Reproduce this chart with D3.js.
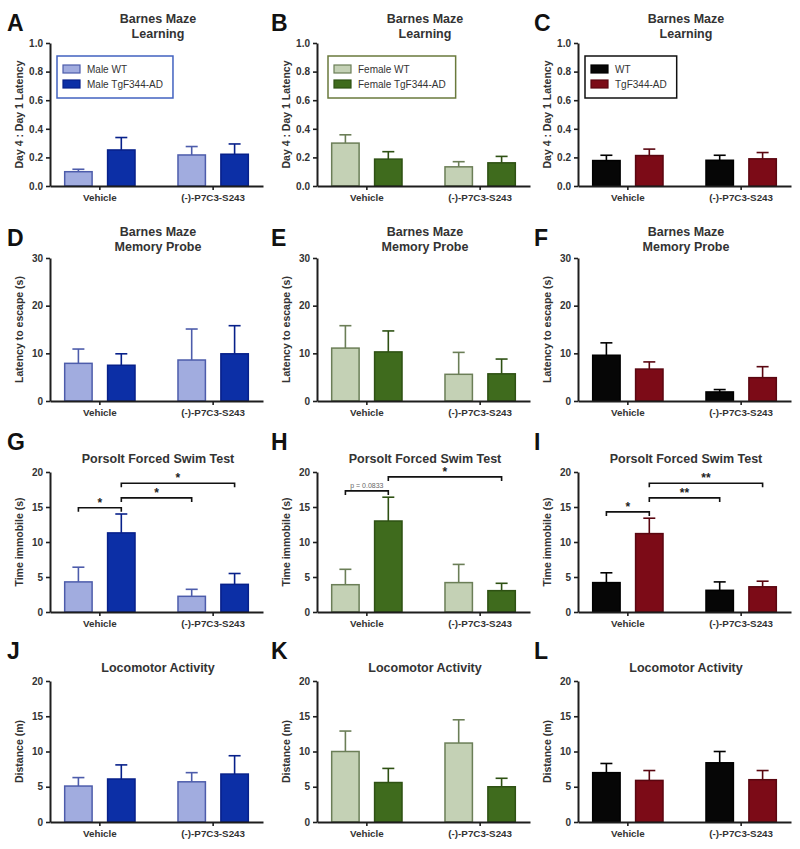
<!DOCTYPE html>
<html><head><meta charset="utf-8">
<script src="https://cdn.jsdelivr.net/npm/d3@7"></script>
<style>
body{margin:0;background:#fff}
svg{display:block;font-family:"Liberation Sans",Arial,Helvetica,sans-serif}
</style>
</head><body>
<svg id="chart" width="800" height="849"></svg>
<script>
// ---------------- DATA ----------------
const categories = ["Vehicle", "(-)-P7C3-S243"];
const legendMale = ["Male WT", "Male TgF344-AD"];
const legendFemale = ["Female WT", "Female TgF344-AD"];
const legendPooled = ["WT", "TgF344-AD"];

const ticksLearning = [0, 0.2, 0.4, 0.6, 0.8, 1.0];
const ticksProbe = [0, 10, 20, 30];
const ticksSwim = [0, 5, 10, 15, 20];
const ticksLoco = [0, 5, 10, 15, 20];

// bar order: [WT Vehicle, Tg Vehicle, WT P7C3, Tg P7C3]
const meanA = [0.10, 0.252, 0.217, 0.222];
const semA  = [0.017, 0.087, 0.059, 0.072];
const meanB = [0.30, 0.188, 0.134, 0.162];
const semB  = [0.058, 0.052, 0.036, 0.045];
const meanC = [0.178, 0.213, 0.18, 0.19];
const semC  = [0.037, 0.045, 0.035, 0.044];

const meanD = [7.9, 7.5, 8.6, 9.9];
const semD  = [3.0, 2.4, 6.5, 5.9];
const meanE = [11.1, 10.3, 5.6, 5.7];
const semE  = [4.7, 4.4, 4.6, 3.1];
const meanF = [9.6, 6.7, 1.9, 4.9];
const semF  = [2.6, 1.5, 0.5, 2.3];

const meanG = [4.3, 11.3, 2.24, 3.95];
const semG  = [2.1, 2.7, 1.0, 1.55];
const meanH = [3.9, 13.0, 4.2, 3.05];
const semH  = [2.2, 3.4, 2.6, 1.05];
const meanI = [4.2, 11.2, 3.1, 3.6];
const semI  = [1.4, 2.2, 1.2, 0.8];

const meanJ = [5.1, 6.1, 5.7, 6.8];
const semJ  = [1.2, 2.0, 1.3, 2.6];
const meanK = [10.0, 5.6, 11.2, 5.0];
const semK  = [2.9, 2.0, 3.3, 1.2];
const meanL = [7.0, 5.9, 8.4, 6.0];
const semL  = [1.3, 1.4, 1.6, 1.3];

// significance brackets: [fromBar, toBar, level, label]
const sigG = [[0, 1, 14.9, "*"], [1, 2, 16.3, "*"], [1, 3, 18.4, "*"]];
const sigH = [[0, 1, 17.3, "p = 0.0833"], [1, 3, 19.3, "*"]];
const sigI = [[0, 1, 14.3, "*"], [1, 2, 16.3, "**"], [1, 3, 18.4, "**"]];

// ---------------- STYLE ----------------
const palMale   = {fill: ["#a1acdf", "#0c2fa6"], stroke: ["#4d5cab", "#07208a"], box: "#4262c0"};
const palFemale = {fill: ["#c4d1b5", "#3f6b1d"], stroke: ["#6b7e57", "#2e5113"], box: "#6a7a3c"};
const palPooled = {fill: ["#060606", "#7c0b17"], stroke: ["#000000", "#5a0610"], box: "#111111"};

const colX = [50, 317, 578];
const rows = [
  {yTop: 43,  yZero: 186, max: 1.0, ticks: ticksLearning, fmt: d3.format(".1f"), title: ["Barnes Maze", "Learning"], titleY: 23, letterY: 31, ylab: "Day 4 : Day 1 Latency"},
  {yTop: 258, yZero: 401, max: 30,  ticks: ticksProbe, fmt: d3.format("d"), title: ["Barnes Maze", "Memory Probe"], titleY: 236, letterY: 246, ylab: "Latency to escape (s)"},
  {yTop: 472, yZero: 612, max: 20,  ticks: ticksSwim, fmt: d3.format("d"), title: ["Porsolt Forced Swim Test"], titleY: 463, letterY: 450, ylab: "Time immobile (s)"},
  {yTop: 681, yZero: 822, max: 20,  ticks: ticksLoco, fmt: d3.format("d"), title: ["Locomotor Activity"], titleY: 672, letterY: 659, ylab: "Distance (m)"}
];

const panels = [
  {r: 0, c: 0, letter: "A", mean: meanA, sem: semA, pal: palMale, legend: legendMale},
  {r: 0, c: 1, letter: "B", mean: meanB, sem: semB, pal: palFemale, legend: legendFemale},
  {r: 0, c: 2, letter: "C", mean: meanC, sem: semC, pal: palPooled, legend: legendPooled},
  {r: 1, c: 0, letter: "D", mean: meanD, sem: semD, pal: palMale},
  {r: 1, c: 1, letter: "E", mean: meanE, sem: semE, pal: palFemale},
  {r: 1, c: 2, letter: "F", mean: meanF, sem: semF, pal: palPooled},
  {r: 2, c: 0, letter: "G", mean: meanG, sem: semG, pal: palMale, sig: sigG},
  {r: 2, c: 1, letter: "H", mean: meanH, sem: semH, pal: palFemale, sig: sigH},
  {r: 2, c: 2, letter: "I", mean: meanI, sem: semI, pal: palPooled, sig: sigI},
  {r: 3, c: 0, letter: "J", mean: meanJ, sem: semJ, pal: palMale},
  {r: 3, c: 1, letter: "K", mean: meanK, sem: semK, pal: palFemale},
  {r: 3, c: 2, letter: "L", mean: meanL, sem: semL, pal: palPooled}
];
const letterX = [7, 271, 534];

const svg = d3.select("#chart");

panels.forEach(p => {
  const row = rows[p.r];
  const x0 = colX[p.c];
  const g = svg.append("g");

  const xOuter = d3.scaleBand().domain(categories).range([x0, x0 + 213])
    .paddingInner(0.366).paddingOuter(0.123);
  const xInner = d3.scaleBand().domain([0, 1]).range([0, xOuter.bandwidth()]).paddingInner(0.326);
  const y = d3.scaleLinear().domain([0, row.max]).range([row.yZero, row.yTop]);

  const bars = p.mean.map((m, i) => ({
    cat: categories[Math.floor(i / 2)], gen: i % 2, mean: m, sem: p.sem[i]
  }));
  const bx = d => xOuter(d.cat) + xInner(d.gen);
  const cx = d => bx(d) + xInner.bandwidth() / 2;

  // panel letter
  g.append("text").attr("x", letterX[p.c]).attr("y", row.letterY)
    .attr("font-size", 23).attr("font-weight", "bold").attr("fill", "#111").text(p.letter);

  // title
  row.title.forEach((t, k) => {
    g.append("text").attr("x", x0 + 108).attr("y", row.titleY + k * 15)
      .attr("text-anchor", "middle").attr("font-size", 12.5).attr("font-weight", "bold")
      .attr("fill", "#333").text(t);
  });

  // y label
  g.append("text")
    .attr("transform", `translate(${x0 - 27},${(row.yTop + row.yZero) / 2}) rotate(-90)`)
    .attr("text-anchor", "middle").attr("font-size", 10.5).attr("font-weight", "bold")
    .attr("fill", "#333").text(row.ylab);

  // error bars (behind bars)
  const eb = g.append("g");
  bars.forEach(d => {
    const col = p.pal.stroke[d.gen];
    eb.append("line").attr("x1", cx(d)).attr("x2", cx(d))
      .attr("y1", y(d.mean)).attr("y2", y(d.mean + d.sem))
      .attr("stroke", col).attr("stroke-width", 1.6);
    eb.append("line").attr("x1", cx(d) - 6).attr("x2", cx(d) + 6)
      .attr("y1", y(d.mean + d.sem)).attr("y2", y(d.mean + d.sem))
      .attr("stroke", col).attr("stroke-width", 1.6);
  });

  // bars
  g.append("g").selectAll("rect").data(bars).join("rect")
    .attr("x", d => bx(d) + 0.75).attr("width", xInner.bandwidth() - 1.5)
    .attr("y", d => y(d.mean)).attr("height", d => y(0) - y(d.mean))
    .attr("fill", d => p.pal.fill[d.gen]).attr("stroke", d => p.pal.stroke[d.gen])
    .attr("stroke-width", 1.5);

  // axes
  const ya = g.append("g").attr("transform", `translate(${x0},0)`)
    .call(d3.axisLeft(y).tickValues(row.ticks).tickFormat(row.fmt).tickSize(4).tickSizeOuter(0));
  const xa = g.append("g").attr("transform", `translate(0,${row.yZero})`)
    .call(d3.axisBottom(xOuter).tickSize(4).tickSizeOuter(0).tickPadding(4));
  [ya, xa].forEach(a => {
    a.select(".domain").attr("stroke", "#1e1e1e").attr("stroke-width", 2);
    a.selectAll(".tick line").attr("stroke", "#1e1e1e").attr("stroke-width", 1.6);
    a.selectAll(".tick text").attr("font-family", "'Liberation Sans',Arial,sans-serif")
      .attr("font-weight", "bold").attr("fill", "#333");
  });
  ya.selectAll(".tick text").attr("font-size", 10);
  xa.selectAll(".tick text").attr("font-size", 9.8);

  // legend
  if (p.legend) {
    const lg = g.append("g").attr("transform", `translate(${x0 + (p.c === 1 ? 11 : 7)},56)`);
    const box = lg.append("rect").attr("height", 42).attr("fill", "#fff")
      .attr("stroke", p.pal.box).attr("stroke-width", 1.5);
    let maxW = 0;
    p.legend.forEach((lab, k) => {
      lg.append("rect").attr("x", 6).attr("y", 9 + k * 15).attr("width", 17).attr("height", 8)
        .attr("fill", p.pal.fill[k]).attr("stroke", p.pal.stroke[k]).attr("stroke-width", 1.2);
      const t = lg.append("text").attr("x", 30).attr("y", 17 + k * 15)
        .attr("font-size", 10).attr("fill", "#333").text(lab);
      maxW = Math.max(maxW, t.node().getComputedTextLength());
    });
    box.attr("width", maxW + 40);
  }

  // significance brackets
  if (p.sig) {
    p.sig.forEach(([a, b, lev, lab]) => {
      const xa1 = cx(bars[a]), xb1 = cx(bars[b]), yy = y(lev);
      g.append("path")
        .attr("d", `M${xa1},${yy + 4}V${yy}H${xb1}V${yy + 4}`)
        .attr("fill", "none").attr("stroke", "#111").attr("stroke-width", 1.6);
      const isP = lab.startsWith("p");
      g.append("text").attr("x", (xa1 + xb1) / 2).attr("y", isP ? yy - 3 : yy - 1)
        .attr("text-anchor", "middle")
        .attr("font-size", isP ? 7 : 12).attr("font-weight", isP ? "normal" : "bold")
        .attr("fill", isP ? "#666" : "#222").text(lab);
    });
  }
});
</script>
</body></html>
